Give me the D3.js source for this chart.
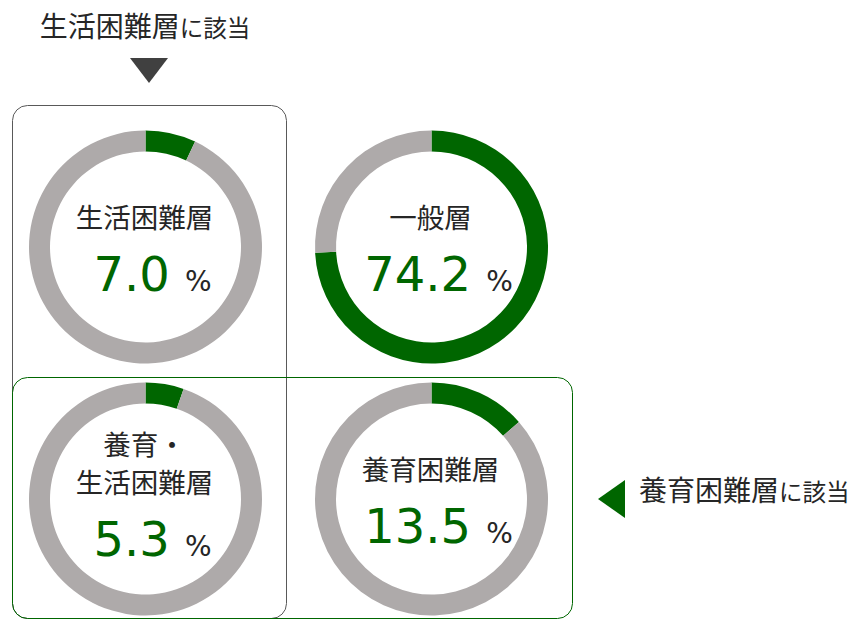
<!DOCTYPE html>
<html>
<head>
<meta charset="utf-8">
<script src="https://cdn.jsdelivr.net/npm/d3@7"></script>
<style>
    body { margin: 0; background: #fff; }
    text { font-family: "Noto Sans CJK JP", sans-serif; }
    .num { font-family: "DejaVu Sans", Verdana, sans-serif; }
</style>
</head>
<body>
<div id="chart-div"></div>
<script>
// data
const groupLabels = [["生活困難層"], ["一般層"], ["養育・", "生活困難層"], ["養育困難層"]];
const groupValues = [7.0, 74.2, 5.3, 13.5];
const groupCols = [0, 1, 0, 1];
const groupRows = [0, 0, 1, 1];

const topNote = ["生活困難層", "に該当"];
const sideNote = ["養育困難層", "に該当"];

const colors = {
    value: "#006600",
    rest: "#aeaaaa",
    text: "#262626",
    frame: "#595959",
    arrow: "#404040"
};

const width = 861, height = 621;

var svg = d3.select("#chart-div").append("svg")
    .attr("width", width)
    .attr("height", height);

// donut grid positions
var x = d3.scaleOrdinal().domain([0, 1]).range([145.5, 431.5]);
var y = d3.scaleOrdinal().domain([0, 1]).range([247, 499]);

const outerR = 116.5, innerR = 95.5;

var pie = d3.pie().sort(null).value(d => d);
var arc = d3.arc().innerRadius(innerR).outerRadius(outerR);

// frames
svg.append("rect")
    .attr("x", 12.5).attr("y", 105.5)
    .attr("width", 274).attr("height", 513)
    .attr("rx", 15).attr("ry", 15)
    .attr("fill", "none")
    .attr("stroke", colors.frame)
    .attr("stroke-width", 1);

svg.append("rect")
    .attr("x", 12.5).attr("y", 377.5)
    .attr("width", 560).attr("height", 241)
    .attr("rx", 15).attr("ry", 15)
    .attr("fill", "none")
    .attr("stroke", colors.value)
    .attr("stroke-width", 1);

// donuts
groupValues.forEach((v, i) => {
    const cx = x(groupCols[i]), cy = y(groupRows[i]);
    const g = svg.append("g")
        .attr("transform", `translate(${cx},${cy})`);

    g.selectAll("path")
        .data(pie([v, 100 - v]))
        .enter().append("path")
        .attr("d", arc)
        .attr("fill", (d, j) => j === 0 ? colors.value : colors.rest);

    const lines = groupLabels[i];
    const labelBottom = -19 + (lines.length - 1) * 13;
    lines.forEach((line, k) => {
        g.append("text")
            .attr("x", -1)
            .attr("y", labelBottom - (lines.length - 1 - k) * 38)
            .attr("text-anchor", "middle")
            .style("font-size", "27.5px")
            .attr("fill", colors.text)
            .text(line);
    });

    const num = g.append("text")
        .attr("class", "num")
        .attr("x", 7)
        .attr("y", labelBottom + 63)
        .attr("text-anchor", "middle");
    num.append("tspan")
        .style("font-size", "48px")
        .attr("fill", colors.value)
        .text(d3.format(".1f")(v) + " ");
    num.append("tspan")
        .style("font-size", "28px")
        .attr("fill", colors.text)
        .text("%");
});

// top note with down arrow
var topText = svg.append("text")
    .attr("x", 145)
    .attr("y", 37)
    .attr("text-anchor", "middle")
    .attr("fill", colors.text);
topText.append("tspan").style("font-size", "28px").text(topNote[0]);
topText.append("tspan").style("font-size", "23.5px").text(topNote[1]);

svg.append("path")
    .attr("d", d3.line()([[130, 58], [168, 58], [149, 83]]) + "Z")
    .attr("fill", colors.arrow);

// side note with left arrow
svg.append("path")
    .attr("d", d3.line()([[625, 480], [625, 518], [598, 499]]) + "Z")
    .attr("fill", colors.value);

var sideText = svg.append("text")
    .attr("x", 639)
    .attr("y", 501)
    .attr("fill", colors.text);
sideText.append("tspan").style("font-size", "28px").text(sideNote[0]);
sideText.append("tspan").style("font-size", "23.5px").text(sideNote[1]);
</script>
</body>
</html>
